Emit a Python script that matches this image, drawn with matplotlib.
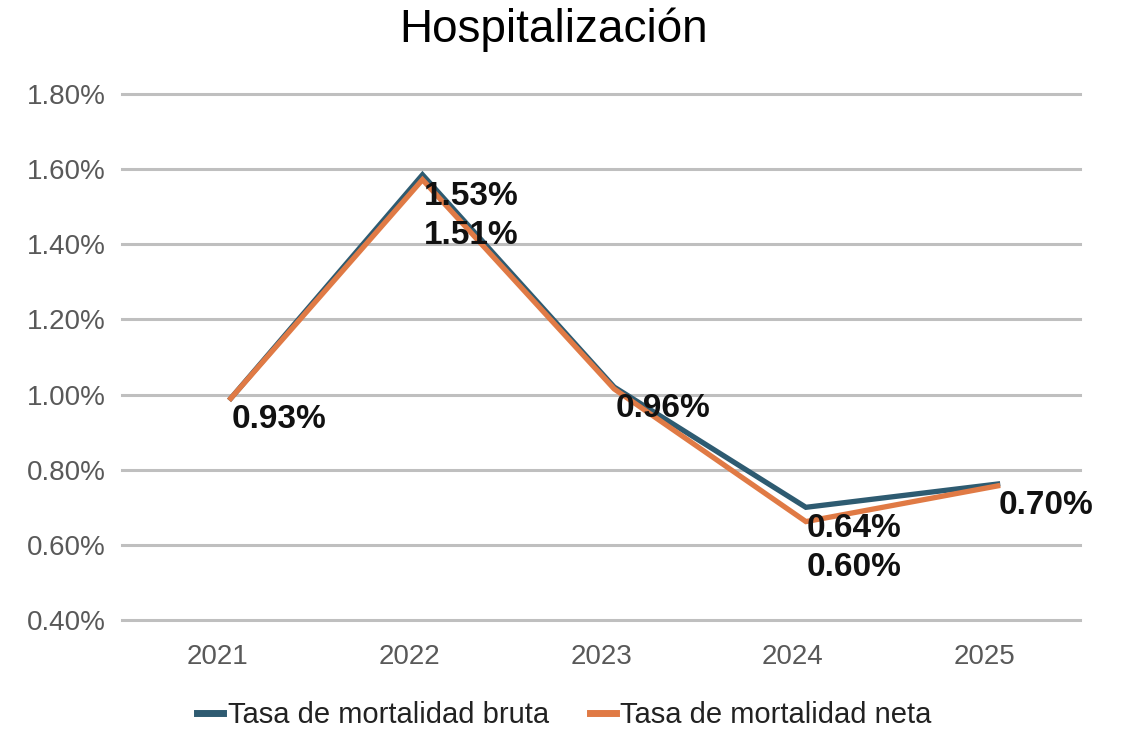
import matplotlib.pyplot as plt
import matplotlib.transforms as mtransforms
from matplotlib.ticker import PercentFormatter

plt.rcParams['font.family'] = ['Liberation Sans', 'DejaVu Sans']

years = ["2021", "2022", "2023", "2024", "2025"]
# line values as drawn (percent)
bruta = [0.99, 1.585, 1.02, 0.70, 0.762]
neta = [0.99, 1.572, 1.015, 0.662, 0.757]
# labels printed on the chart
bruta_labels = ["0.93%", "1.53%", "0.96%", "0.64%", "0.70%"]
neta_labels = [None, "1.51%", None, "0.60%", None]

c_bruta = "#2E5B71"
c_neta = "#E07A45"

fig = plt.figure(figsize=(11.29, 7.31), dpi=100)
ax = fig.add_axes([0.108, 0.1518, 0.849, 0.7196])

x = list(range(len(years)))
# lines sit a little right of the category labels in the original
shift = mtransforms.ScaledTranslation(0.13, 0, fig.dpi_scale_trans)
ax.plot(x, bruta, color=c_bruta, lw=3.8, solid_joinstyle='miter',
        transform=ax.transData + shift, label="Tasa de mortalidad bruta", zorder=3)
ax.plot(x, neta, color=c_neta, lw=3.8, solid_joinstyle='miter',
        transform=ax.transData + shift, label="Tasa de mortalidad neta", zorder=4)

for i in x:
    ax.annotate(bruta_labels[i], (i, bruta[i]), xytext=(14, -6), textcoords='offset pixels',
                ha='left', va='top', fontsize=24, fontweight='bold', color='#111111', zorder=5)
    if neta_labels[i]:
        ax.annotate(neta_labels[i], (i, bruta[i]), xytext=(14, -45), textcoords='offset pixels',
                    ha='left', va='top', fontsize=24, fontweight='bold', color='#111111', zorder=5)

ax.set_xlim(-0.5, 4.5)
ax.set_ylim(0.4, 1.8)
ax.set_yticks([0.4, 0.6, 0.8, 1.0, 1.2, 1.4, 1.6, 1.8])
ax.yaxis.set_major_formatter(PercentFormatter(decimals=2))
ax.set_xticks(x)
ax.set_xticklabels(years)
ax.tick_params(axis='both', length=0, labelsize=20, labelcolor='#595959')
ax.tick_params(axis='x', pad=17)
ax.tick_params(axis='y', pad=12)
ax.grid(axis='y', color='#BFBFBF', lw=2.2)
for gl in ax.get_ygridlines():
    gl.set_clip_on(False)
ax.set_axisbelow(True)
for s in ax.spines.values():
    s.set_visible(False)

fig.suptitle("Hospitalización", fontsize=33, y=0.99, x=0.49)

leg = fig.legend(loc='center', bbox_to_anchor=(0.5, 0.022), ncol=2, frameon=False,
                 fontsize=21, handlelength=0.9, handletextpad=0.15, columnspacing=1.4,
                 labelcolor='#222222')
for h in leg.legend_handles:
    h.set_linewidth(5)

fig.savefig("out.png", dpi=100)
